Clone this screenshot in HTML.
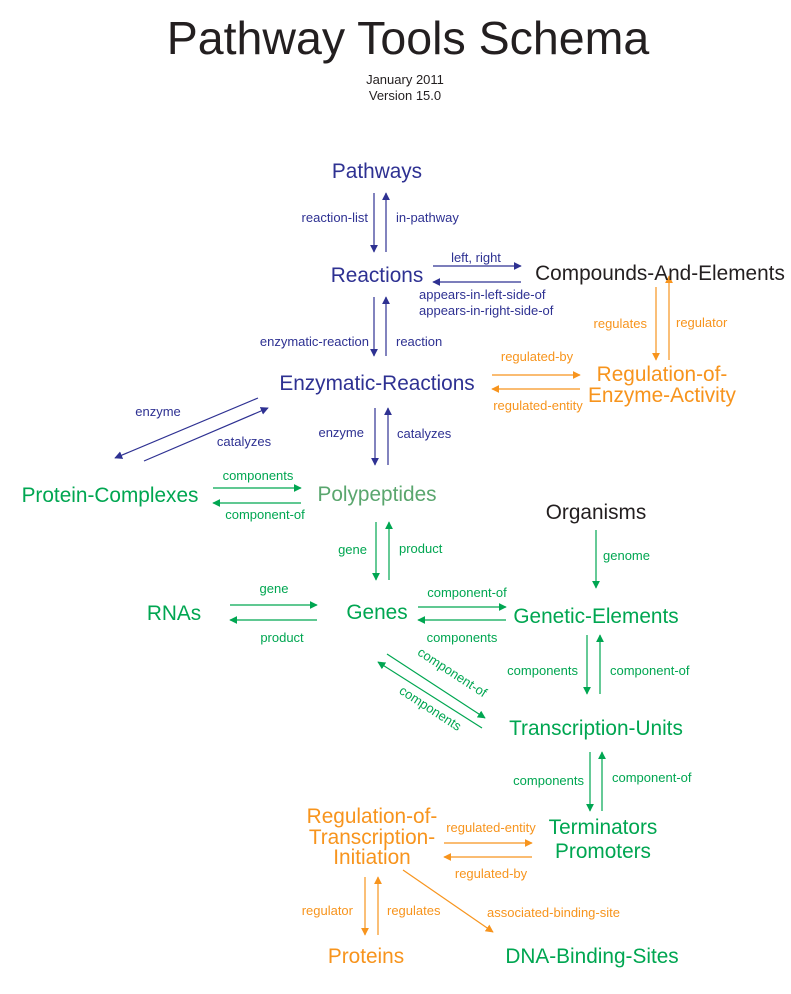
<!DOCTYPE html>
<html><head><meta charset="utf-8"><style>
html,body{margin:0;padding:0;background:#fff;}
svg{display:block;font-family:"Liberation Sans",Arial,sans-serif;}
.b{fill:#2e3192}.g{fill:#00a651}.o{fill:#f7941d}.k{fill:#231f20}
.n{font-size:20.8px}.l{font-size:13px}
</style></head><body>
<svg width="791" height="994" viewBox="0 0 791 994" xmlns="http://www.w3.org/2000/svg">
<defs>
<marker id="ab" viewBox="0 0 10 10" refX="9" refY="5" markerWidth="8" markerHeight="8" orient="auto" markerUnits="userSpaceOnUse"><path d="M0,0L10,5L0,10z" fill="#2e3192"/></marker>
<marker id="ag" viewBox="0 0 10 10" refX="9" refY="5" markerWidth="8" markerHeight="8" orient="auto" markerUnits="userSpaceOnUse"><path d="M0,0L10,5L0,10z" fill="#00a651"/></marker>
<marker id="ao" viewBox="0 0 10 10" refX="9" refY="5" markerWidth="8" markerHeight="8" orient="auto" markerUnits="userSpaceOnUse"><path d="M0,0L10,5L0,10z" fill="#f7941d"/></marker>
</defs>
<text x="408" y="54" text-anchor="middle" font-size="46.5" class="k">Pathway Tools Schema</text>
<text x="405" y="84" text-anchor="middle" font-size="13" class="k">January 2011</text>
<text x="405" y="100" text-anchor="middle" font-size="13" class="k">Version 15.0</text>

<g stroke="#2e3192" stroke-width="1.2">
<line x1="374" y1="193" x2="374" y2="252" marker-end="url(#ab)"/>
<line x1="386" y1="252" x2="386" y2="193" marker-end="url(#ab)"/>
<line x1="433" y1="266" x2="521" y2="266" marker-end="url(#ab)"/>
<line x1="521" y1="282" x2="433" y2="282" marker-end="url(#ab)"/>
<line x1="374" y1="297" x2="374" y2="356" marker-end="url(#ab)"/>
<line x1="386" y1="356" x2="386" y2="297" marker-end="url(#ab)"/>
<line x1="258" y1="398" x2="115" y2="458" marker-end="url(#ab)"/>
<line x1="144" y1="461" x2="268" y2="408" marker-end="url(#ab)"/>
<line x1="375" y1="408" x2="375" y2="465" marker-end="url(#ab)"/>
<line x1="388" y1="465" x2="388" y2="408" marker-end="url(#ab)"/>
</g>
<g stroke="#f7941d" stroke-width="1.2">
<line x1="656" y1="287" x2="656" y2="360" marker-end="url(#ao)"/>
<line x1="669" y1="360" x2="669" y2="276" marker-end="url(#ao)"/>
<line x1="492" y1="375" x2="580" y2="375" marker-end="url(#ao)"/>
<line x1="580" y1="389" x2="492" y2="389" marker-end="url(#ao)"/>
<line x1="444" y1="843" x2="532" y2="843" marker-end="url(#ao)"/>
<line x1="532" y1="857" x2="444" y2="857" marker-end="url(#ao)"/>
<line x1="365" y1="877" x2="365" y2="935" marker-end="url(#ao)"/>
<line x1="378" y1="935" x2="378" y2="877" marker-end="url(#ao)"/>
<line x1="403" y1="870" x2="493" y2="932" marker-end="url(#ao)"/>
</g>
<g stroke="#00a651" stroke-width="1.2">
<line x1="213" y1="488" x2="301" y2="488" marker-end="url(#ag)"/>
<line x1="301" y1="503" x2="213" y2="503" marker-end="url(#ag)"/>
<line x1="376" y1="522" x2="376" y2="580" marker-end="url(#ag)"/>
<line x1="389" y1="580" x2="389" y2="522" marker-end="url(#ag)"/>
<line x1="596" y1="530" x2="596" y2="588" marker-end="url(#ag)"/>
<line x1="230" y1="605" x2="317" y2="605" marker-end="url(#ag)"/>
<line x1="317" y1="620" x2="230" y2="620" marker-end="url(#ag)"/>
<line x1="418" y1="607" x2="506" y2="607" marker-end="url(#ag)"/>
<line x1="506" y1="620" x2="418" y2="620" marker-end="url(#ag)"/>
<line x1="587" y1="635" x2="587" y2="694" marker-end="url(#ag)"/>
<line x1="600" y1="694" x2="600" y2="635" marker-end="url(#ag)"/>
<line x1="387" y1="654" x2="485" y2="718" marker-end="url(#ag)"/>
<line x1="482" y1="728" x2="378" y2="662" marker-end="url(#ag)"/>
<line x1="590" y1="752" x2="590" y2="811" marker-end="url(#ag)"/>
<line x1="602" y1="811" x2="602" y2="752" marker-end="url(#ag)"/>
</g>

<text x="377" y="178" text-anchor="middle" class="n b">Pathways</text>
<text x="368" y="222" text-anchor="end" class="l b">reaction-list</text>
<text x="396" y="222" class="l b">in-pathway</text>
<text x="377" y="282" text-anchor="middle" class="n b">Reactions</text>
<text x="476" y="262" text-anchor="middle" class="l b">left, right</text>
<text x="419" y="299" class="l b">appears-in-left-side-of</text>
<text x="419" y="315" class="l b">appears-in-right-side-of</text>
<text x="660" y="280" text-anchor="middle" class="n k">Compounds-And-Elements</text>
<text x="647" y="328" text-anchor="end" class="l o">regulates</text>
<text x="676" y="327" class="l o">regulator</text>
<text x="662" y="381" text-anchor="middle" class="n o">Regulation-of-</text>
<text x="662" y="402" text-anchor="middle" class="n o">Enzyme-Activity</text>
<text x="537" y="361" text-anchor="middle" class="l o">regulated-by</text>
<text x="538" y="410" text-anchor="middle" class="l o">regulated-entity</text>
<text x="369" y="346" text-anchor="end" class="l b">enzymatic-reaction</text>
<text x="396" y="346" class="l b">reaction</text>
<text x="377" y="390" text-anchor="middle" class="n b">Enzymatic-Reactions</text>
<text x="158" y="416" text-anchor="middle" class="l b">enzyme</text>
<text x="244" y="446" text-anchor="middle" class="l b">catalyzes</text>
<text x="364" y="437" text-anchor="end" class="l b">enzyme</text>
<text x="397" y="438" class="l b">catalyzes</text>
<text x="110" y="502" text-anchor="middle" class="n g">Protein-Complexes</text>
<text x="258" y="480" text-anchor="middle" class="l g">components</text>
<text x="265" y="519" text-anchor="middle" class="l g">component-of</text>
<text x="377" y="501" text-anchor="middle" class="n" fill="#5aa66e">Polypeptides</text>
<text x="367" y="554" text-anchor="end" class="l g">gene</text>
<text x="399" y="553" class="l g">product</text>
<text x="596" y="519" text-anchor="middle" class="n k">Organisms</text>
<text x="603" y="560" class="l g">genome</text>
<text x="174" y="620" text-anchor="middle" class="n g">RNAs</text>
<text x="377" y="619" text-anchor="middle" class="n g">Genes</text>
<text x="596" y="623" text-anchor="middle" class="n g">Genetic-Elements</text>
<text x="274" y="593" text-anchor="middle" class="l g">gene</text>
<text x="282" y="642" text-anchor="middle" class="l g">product</text>
<text x="467" y="597" text-anchor="middle" class="l g">component-of</text>
<text x="462" y="642" text-anchor="middle" class="l g">components</text>
<text x="578" y="675" text-anchor="end" class="l g">components</text>
<text x="610" y="675" class="l g">component-of</text>
<text x="0" y="0" text-anchor="middle" class="l g" transform="translate(450,676) rotate(33)">component-of</text>
<text x="0" y="0" text-anchor="middle" class="l g" transform="translate(428,712) rotate(33)">components</text>
<text x="596" y="735" text-anchor="middle" class="n g">Transcription-Units</text>
<text x="584" y="785" text-anchor="end" class="l g">components</text>
<text x="612" y="782" class="l g">component-of</text>
<text x="603" y="834" text-anchor="middle" class="n g">Terminators</text>
<text x="603" y="858" text-anchor="middle" class="n g">Promoters</text>
<text x="372" y="823" text-anchor="middle" class="n o">Regulation-of-</text>
<text x="372" y="844" text-anchor="middle" class="n o">Transcription-</text>
<text x="372" y="864" text-anchor="middle" class="n o">Initiation</text>
<text x="491" y="832" text-anchor="middle" class="l o">regulated-entity</text>
<text x="491" y="878" text-anchor="middle" class="l o">regulated-by</text>
<text x="353" y="915" text-anchor="end" class="l o">regulator</text>
<text x="387" y="915" class="l o">regulates</text>
<text x="487" y="917" class="l o">associated-binding-site</text>
<text x="366" y="963" text-anchor="middle" class="n o">Proteins</text>
<text x="592" y="963" text-anchor="middle" class="n g">DNA-Binding-Sites</text>
</svg>
</body></html>
